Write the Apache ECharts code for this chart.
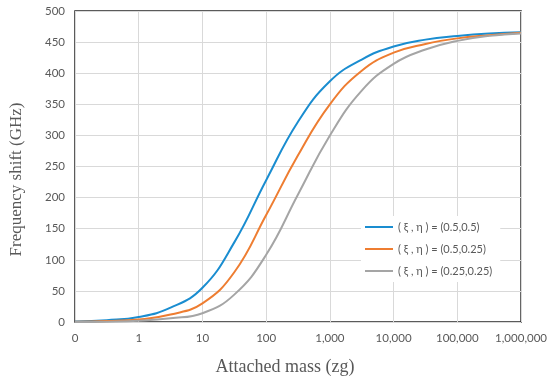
<!DOCTYPE html>
<html>
<head>
<meta charset="utf-8">
<script src="https://cdn.jsdelivr.net/npm/echarts@6/dist/echarts.min.js"></script>
<style>html,body{margin:0;padding:0;background:#fff}#c{width:550px;height:381px}</style>
</head>
<body>
<div id="c"></div>
<script>
var mass = [0.1, 0.316, 1, 3.16, 10, 31.6, 100, 316, 1000, 3162, 10000, 31623, 100000, 316228, 1000000];
var seriesNames = ['( ξ , η ) = (0.5,0.5)', '( ξ , η ) = (0.5,0.25)', '( ξ , η ) = (0.25,0.25)'];
var blue   = [1, 3, 8, 23, 55, 128, 228, 322, 387, 422, 443, 454, 460, 464, 466];
var orange = [0.5, 1.5, 4, 12, 30, 80, 172, 268, 350, 404, 433, 447, 456, 461, 465];
var gray   = [0.2, 0.6, 2, 6, 14, 44, 108, 205, 300, 372, 415, 438, 452, 460, 464];
var colors = ['#1a8dd0', '#ee7d31', '#a5a5a5'];

function pairs(ys){ return mass.map(function(m,i){ return [m, ys[i]]; }); }

var chart = echarts.init(document.getElementById('c'), null, {renderer:'canvas'});
function mkSeries(name, ys){
  return {name:name, type:'line', data:pairs(ys), smooth:0.45,
          showSymbol:false, symbol:'none', lineStyle:{width:2}};
}
chart.setOption({
  animation: false,
  color: colors,
  grid: {left:73, right:27, top:11, bottom:58, show:true, borderColor:'#262626', borderWidth:1.5, backgroundColor:'transparent'},
  legend: {
    orient:'vertical', left:361, top:216,
    icon:'rect', itemWidth:28, itemHeight:2, itemGap:8,
    backgroundColor:'#fff', padding:[4,8,4,4],
    textStyle:{fontFamily:'Lato', fontSize:11, color:'#595959', lineHeight:14},
    data: seriesNames
  },
  xAxis: {
    type:'log', logBase:10, min:0.1, max:1000000,
    axisLine:{show:false}, axisTick:{show:false},
    splitLine:{show:true, lineStyle:{color:'#d9d9d9', width:1}},
    axisLabel:{margin:10, fontFamily:'Lato', fontSize:11.5, color:'#595959',
      formatter:function(v){ if (v < 0.5) return '0'; return Math.round(v).toLocaleString('en-US'); }},
    name:'Attached mass (zg)', nameLocation:'middle', nameGap:36,
    nameTextStyle:{fontFamily:'Liberation Serif', fontSize:18, color:'#595959', padding:[0,26,0,0]}
  },
  yAxis: {
    type:'value', min:0, max:500, interval:50,
    axisLine:{show:false}, axisTick:{show:false},
    splitLine:{show:true, lineStyle:{color:'#d9d9d9', width:1}},
    axisLabel:{margin:10, fontFamily:'Lato', fontSize:11.5, color:'#595959'},
    name:'Frequency shift (GHz)', nameLocation:'middle', nameGap:50,
    nameTextStyle:{fontFamily:'Liberation Serif', fontSize:17, color:'#595959', padding:[0,26,0,0]}
  },
  series: [
    mkSeries(seriesNames[0], blue),
    mkSeries(seriesNames[1], orange),
    mkSeries(seriesNames[2], gray)
  ]
});
</script>
</body>
</html>
